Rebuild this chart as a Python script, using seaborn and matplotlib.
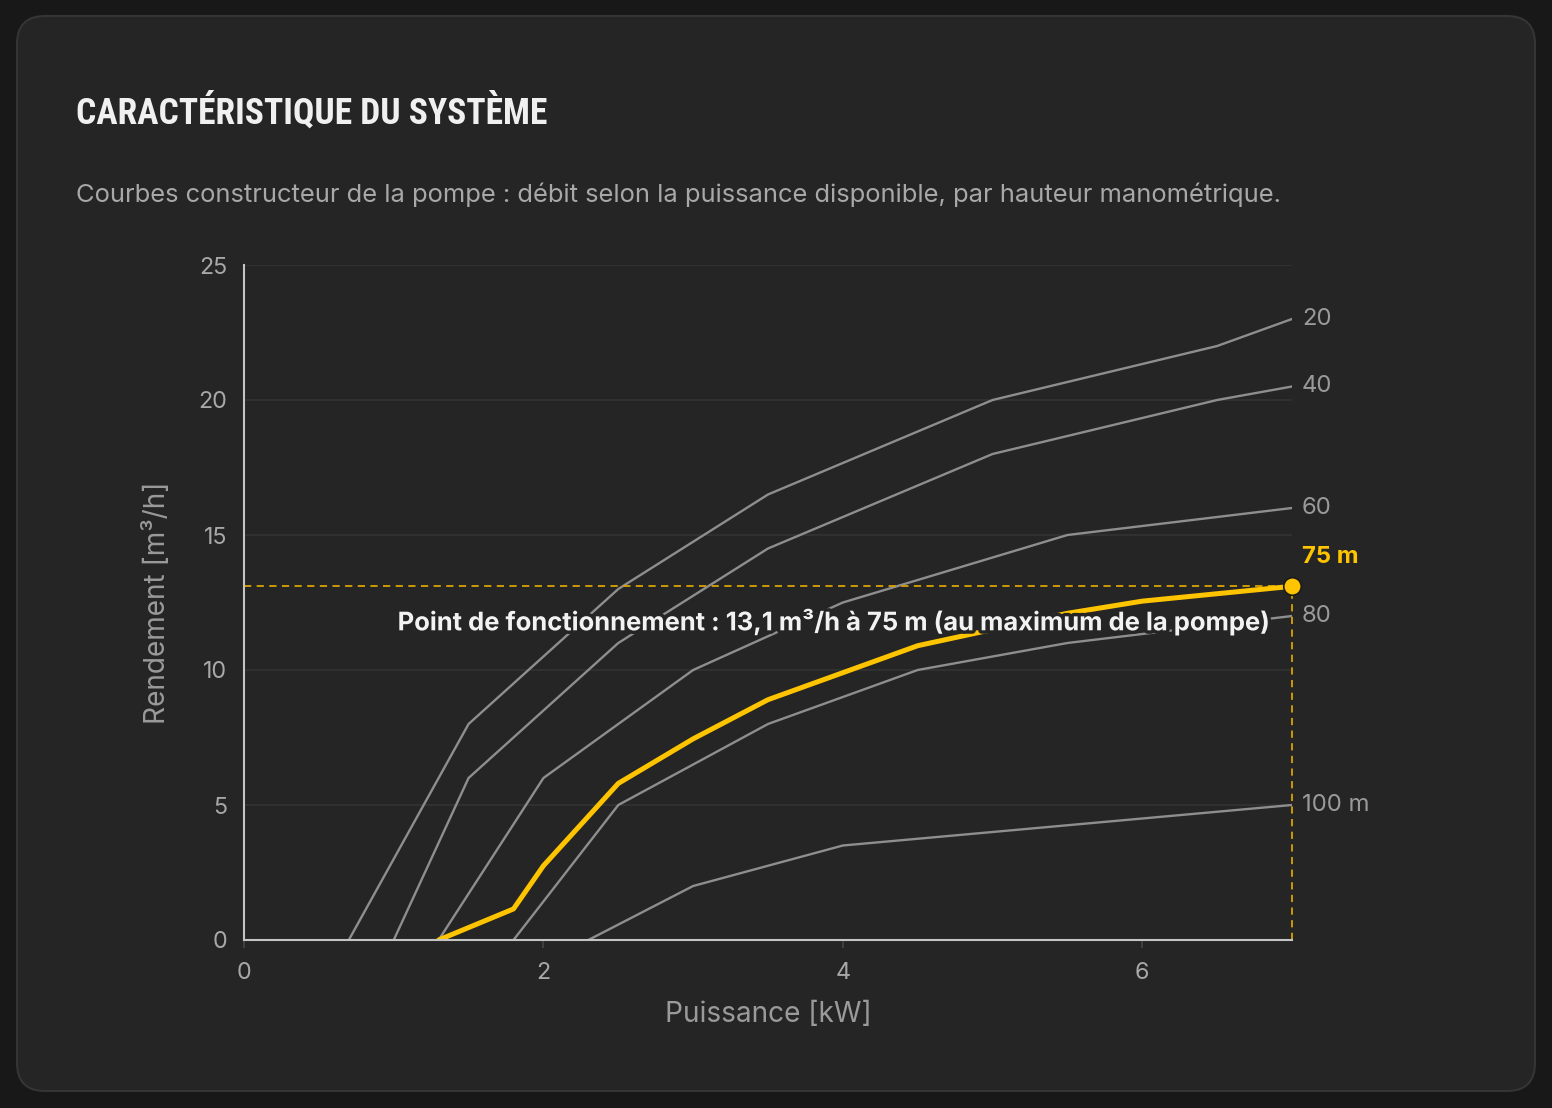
import numpy as np
import pandas as pd
import matplotlib
matplotlib.use("Agg")
import matplotlib.pyplot as plt
import matplotlib.patheffects as pe
from matplotlib.patches import FancyBboxPatch
import seaborn as sns

# ---- data ----
heads = ["20", "40", "60", "80", "100 m"]
p20 = [0.7, 1.5, 2.5, 3.5, 5.0, 6.5, 7.0]
q20 = [0, 8, 13, 16.5, 20, 22, 23]
p40 = [1.0, 1.5, 2.5, 3.5, 5.0, 6.5, 7.0]
q40 = [0, 6, 11, 14.5, 18, 20, 20.5]
p60 = [1.3, 2.0, 3.0, 4.0, 5.5, 7.0]
q60 = [0, 6, 10, 12.5, 15, 16]
p80 = [1.8, 2.5, 3.5, 4.5, 5.5, 7.0]
q80 = [0, 5, 8, 10, 11, 12]
p100 = [2.3, 3.0, 4.0, 7.0]
q100 = [0, 2, 3.5, 5]
p75 = [1.3, 1.8, 2.0, 2.5, 3.0, 3.5, 4.0, 4.5, 5.0, 5.5, 6.0, 7.0]
q75 = [0, 1.15, 2.75, 5.8, 7.45, 8.9, 9.9, 10.9, 11.5, 12.1, 12.55, 13.1]
op_power = 7.0
op_flow = 13.1
op_label = "75 m"
op_text = "Point de fonctionnement : 13,1 m³/h à 75 m (au maximum de la pompe)"
x_ticks = [0, 2, 4, 6]
y_ticks = [0, 5, 10, 15, 20, 25]

title = "CARACTÉRISTIQUE DU SYSTÈME"
subtitle = "Courbes constructeur de la pompe : débit selon la puissance disponible, par hauteur manométrique."
xlabel = "Puissance [kW]"
ylabel = "Rendement [m³/h]"

rows = []
for h, ps, qs in zip(heads, [p20, p40, p60, p80, p100], [q20, q40, q60, q80, q100]):
    for p, q in zip(ps, qs):
        rows.append({"head": h, "P": p, "Q": q})
df = pd.DataFrame(rows)
df75 = pd.DataFrame({"P": p75, "Q": q75})

# ---- style ----
BG = "#181818"
CARD = "#252525"
GRID = "#333333"
GRAY = "#8e8e8e"
YEL = "#ffc400"
sns.set_theme(style="dark")
plt.rcParams["font.family"] = ["Inter", "DejaVu Sans"]

W, H = 1552, 1108
fig = plt.figure(figsize=(W / 100, H / 100), dpi=100)
fig.patch.set_facecolor(BG)
card = FancyBboxPatch((17, H - 1091), 1518, 1075,
                      boxstyle="round,pad=0,rounding_size=28",
                      transform=None, facecolor=CARD, edgecolor="#353535",
                      linewidth=1.5, zorder=-10)
fig.patches.append(card)

ax = fig.add_axes([244 / W, 1 - 940 / H, (1292 - 244) / W, (940 - 265) / H])
ax.set_zorder(1)
ax.set_facecolor(CARD)

sns.lineplot(data=df, x="P", y="Q", hue="head", palette=[GRAY] * len(heads),
             linewidth=1.7, legend=False, ax=ax, sort=False, estimator=None, zorder=3)
sns.lineplot(data=df75, x="P", y="Q", color=YEL, linewidth=3.6, ax=ax,
             sort=False, estimator=None, zorder=5, solid_capstyle="round")

# operating point guides
ax.plot([0, op_power], [op_flow, op_flow], color="#d9a400", lw=1.3, ls=(0, (4, 3)), zorder=4)
ax.plot([op_power, op_power], [0, op_flow + 0.4], color="#d9a400", lw=1.3, ls=(0, (4, 3)), zorder=4,
        clip_on=False)
ax.scatter([op_power], [op_flow], s=160, color=YEL, edgecolor="#1a1a1a", linewidth=1.2,
           zorder=7, clip_on=False)

# end labels
for h, ps, qs in zip(heads, [p20, p40, p60, p80, p100], [q20, q40, q60, q80, q100]):
    ax.annotate(h, (ps[-1], qs[-1]), xytext=(10, 0), textcoords="offset pixels",
                ha="left", va="center", fontsize=17.2, color="#9a9a9a", annotation_clip=False)
ax.annotate(op_label, (op_power, op_flow), xytext=(10, 29), textcoords="offset pixels",
            ha="left", va="center", fontsize=17.2, color=YEL, fontweight="bold",
            annotation_clip=False)
ax.annotate(op_text, (op_power, op_flow), xytext=(-22, -36), textcoords="offset pixels",
            ha="right", va="center", fontsize=18.4, color="#f2f2f2", fontweight="bold",
            zorder=8, path_effects=[pe.withStroke(linewidth=5, foreground=CARD)])

ax.set_xlim(0, 7)
ax.set_ylim(0, 25)
ax.set_xticks(x_ticks)
ax.set_yticks(y_ticks)
ax.tick_params(axis="x", colors="#454545", length=6, width=1.2, pad=10,
               labelcolor="#a8a8a8", labelsize=16.8, bottom=True)
ax.tick_params(axis="y", length=0, pad=12, labelcolor="#a8a8a8", labelsize=16.8, left=False)
ax.grid(axis="y", color=GRID, linewidth=1.2)
ax.grid(axis="x", visible=False)
for s in ["top", "right"]:
    ax.spines[s].set_visible(False)
for s in ["left", "bottom"]:
    ax.spines[s].set_visible(True)
    ax.spines[s].set_color("#c4c4c4")
    ax.spines[s].set_linewidth(1.5)
    ax.spines[s].set_zorder(6)
ax.set_xlabel(xlabel, fontsize=20.2, color="#9a9a9a", labelpad=12)
ax.set_ylabel(ylabel, fontsize=20.2, color="#9a9a9a", labelpad=20)

fig.text(76 / W, 1 - 124 / H, title, fontsize=25.6, fontweight="bold", color="#f0f0f0",
         family=["Roboto Condensed", "Roboto", "DejaVu Sans"], va="baseline")
fig.text(76 / W, 1 - 202 / H, subtitle, fontsize=18.4, color="#a8a8a8", va="baseline")

fig.savefig("out.png", dpi=100, facecolor=BG)
